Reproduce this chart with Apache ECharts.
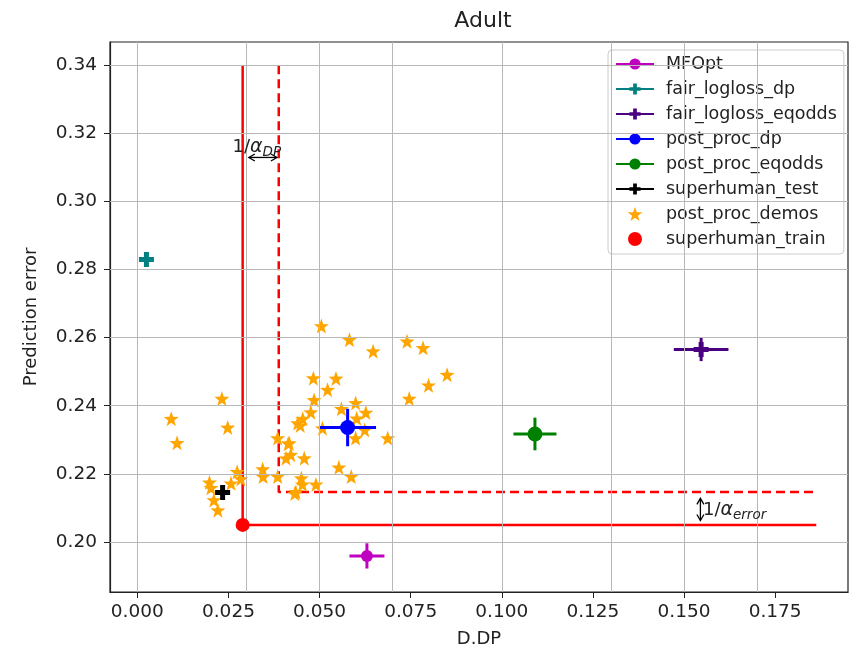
<!DOCTYPE html>
<html>
<head>
<meta charset="utf-8">
<script src="https://cdn.jsdelivr.net/npm/echarts@6/dist/echarts.min.js"></script>
<style>
  html, body { margin: 0; padding: 0; background: #fff; }
  #chart { width: 856px; height: 656px; }
</style>
</head>
<body>
<div id="chart"></div>
<script>
// ticks
const xTicks = [0, 0.025, 0.05, 0.075, 0.1, 0.125, 0.15, 0.175]
const yTicks = [0.2, 0.22, 0.24, 0.26, 0.28, 0.3, 0.32, 0.34]

// methods with error bars
const methodNames = ['MFOpt', 'fair_logloss_dp', 'fair_logloss_eqodds', 'post_proc_dp', 'post_proc_eqodds', 'superhuman_test']
const methodColors = ['#bf00bf', '#008080', '#4b0082', '#0000ff', '#008000', '#000000']
const methodSymbols = ['circle', 'plus', 'plus', 'circle', 'circle', 'plus']
const methodX = [0.0630, 0.0025, 0.1547, 0.0577, 0.1091, 0.0234]
const methodY = [0.1959, 0.2829, 0.2565, 0.2336, 0.2317, 0.2145]
const methodXErr = [0.0048, 0.0008, 0.0075, 0.0078, 0.0059, 0.0010]
const methodYErr = [0.0037, 0.0008, 0.0034, 0.0055, 0.0048, 0.0010]

// post_proc_demos (stars)
const demosX = [0.0232, 0.0093, 0.0248, 0.0109, 0.0385, 0.0414, 0.0408, 0.0421, 0.0344, 0.0345,
  0.0385, 0.0274, 0.0284, 0.0257, 0.0198, 0.0202, 0.0210, 0.0221, 0.0435, 0.0440,
  0.0505, 0.0582, 0.0647, 0.0740, 0.0784, 0.0850, 0.0799, 0.0746, 0.0483, 0.0545,
  0.0522, 0.0485, 0.0599, 0.0560, 0.0627, 0.0476, 0.0454, 0.0447, 0.0602, 0.0624,
  0.0508, 0.0599, 0.0687, 0.0417, 0.0458, 0.0553, 0.0587, 0.0450, 0.0453, 0.0490, 0.0432]
const demosY = [0.2421, 0.2362, 0.2336, 0.2291, 0.2305, 0.2289, 0.2246, 0.2256, 0.2214, 0.2192,
  0.2192, 0.2206, 0.2185, 0.2172, 0.2175, 0.2159, 0.2123, 0.2093, 0.2147, 0.2349,
  0.2634, 0.2594, 0.2560, 0.2589, 0.2570, 0.2491, 0.2460, 0.2421, 0.2481, 0.2480,
  0.2447, 0.2417, 0.2408, 0.2391, 0.2380, 0.2381, 0.2362, 0.2342, 0.2363, 0.2329,
  0.2334, 0.2305, 0.2305, 0.2290, 0.2246, 0.2219, 0.2192, 0.2187, 0.2169, 0.2169, 0.2142]

// superhuman_train
const trainX = [0.0289]
const trainY = [0.2050]

// bound lines
const solidLineX = [0.0289, 0.0289, 0.1863]
const solidLineY = [0.34, 0.2050, 0.2050]
const dashedLineX = [0.0388, 0.0388, 0.1863]
const dashedLineY = [0.34, 0.2147, 0.2147]

// annotation arrows [x1, y1, x2, y2] and labels
const arrows = [[0.0306, 0.3129, 0.0383, 0.3129], [0.1545, 0.2128, 0.1545, 0.2063]]
const annotX = [0.0261, 0.1552]
const annotY = [0.3160, 0.2094]
const annotText = ['1/{a|α}{s|DP}', '1/{a|α}{s|error}']

const font = 'DejaVu Sans'
const zip = (xs, ys) => xs.map((x, i) => [x, ys[i]])
const starPath = 'path://M0,-10 L2.35,-3.24 L9.51,-3.09 L3.8,1.24 L5.88,8.09 L0,4 L-5.88,8.09 L-3.8,1.24 L-9.51,-3.09 L-2.35,-3.24 Z'
const plusPath = 'path://M-1,-3 L1,-3 L1,-1 L3,-1 L3,1 L1,1 L1,3 L-1,3 L-1,1 L-3,1 L-3,-1 L-1,-1 Z'

const chart = echarts.init(document.getElementById('chart'))

const series = []

// grid lines
series.push({
  name: 'grid',
  type: 'line',
  data: [],
  silent: true,
  z: 0,
  markLine: {
    silent: true,
    symbol: 'none',
    label: { show: false },
    lineStyle: { color: '#b8b8b8', width: 1, type: 'solid' },
    data: xTicks.map(v => ({ xAxis: v })).concat(yTicks.map(v => ({ yAxis: v })))
  }
})

series.push({
  name: 'solid',
  type: 'line',
  data: zip(solidLineX, solidLineY),
  showSymbol: false,
  silent: true,
  lineStyle: { color: '#ff0000', width: 2.5 },
  z: 2
})
series.push({
  name: 'dashed',
  type: 'line',
  data: zip(dashedLineX, dashedLineY),
  showSymbol: false,
  silent: true,
  lineStyle: { color: '#ff0000', width: 2.5, type: [9, 5] },
  z: 2
})

// marker series (legend source)
methodNames.forEach((name, i) => {
  series.push({
    name: name,
    type: 'line',
    data: [[methodX[i], methodY[i]]],
    symbol: methodSymbols[i] === 'plus' ? plusPath : 'circle',
    symbolSize: methodSymbols[i] === 'plus' ? 15 : (name === 'MFOpt' ? 12 : 15),
    itemStyle: { color: methodColors[i], opacity: 1 },
    lineStyle: { color: methodColors[i], width: 3 },
    z: 5
  })
})

series.push({
  name: 'post_proc_demos',
  type: 'scatter',
  data: zip(demosX, demosY),
  symbol: starPath,
  symbolSize: 15,
  itemStyle: { color: '#ffa500', opacity: 1 },
  z: 3
})
series.push({
  name: 'superhuman_train',
  type: 'scatter',
  data: zip(trainX, trainY),
  symbol: 'circle',
  symbolSize: 14,
  itemStyle: { color: '#ff0000', opacity: 1 },
  z: 6
})

// error bars
methodNames.forEach((name, i) => {
  series.push({
    name: name,
    type: 'custom',
    data: [[methodX[i], methodY[i], methodXErr[i], methodYErr[i]]],
    encode: { x: 0, y: 1 },
    z: 4,
    renderItem(params, api) {
      const x = api.value(0), y = api.value(1), ex = api.value(2), ey = api.value(3)
      const l = api.coord([x - ex, y]), r = api.coord([x + ex, y])
      const t = api.coord([x, y + ey]), b = api.coord([x, y - ey])
      const style = { stroke: methodColors[i], lineWidth: 3 }
      return {
        type: 'group',
        children: [
          { type: 'line', shape: { x1: l[0], y1: l[1], x2: r[0], y2: r[1] }, style },
          { type: 'line', shape: { x1: t[0], y1: t[1], x2: b[0], y2: b[1] }, style }
        ]
      }
    }
  })
})

// annotation arrows
series.push({
  name: 'arrows',
  type: 'custom',
  data: arrows,
  encode: { x: [0, 2], y: [1, 3] },
  silent: true,
  z: 7,
  renderItem(params, api) {
    const p1 = api.coord([api.value(0), api.value(1)])
    const p2 = api.coord([api.value(2), api.value(3)])
    const dx = p2[0] - p1[0], dy = p2[1] - p1[1]
    const len = Math.sqrt(dx * dx + dy * dy)
    const ux = dx / len, uy = dy / len
    const h = 6, w = 3.5
    const head = (p, sx, sy) => [
      [p[0] + sx * h - sy * w, p[1] + sy * h + sx * w],
      [p[0], p[1]],
      [p[0] + sx * h + sy * w, p[1] + sy * h - sx * w]
    ]
    const style = { stroke: '#000', lineWidth: 1.3, fill: 'none' }
    return {
      type: 'group',
      children: [
        { type: 'line', shape: { x1: p1[0], y1: p1[1], x2: p2[0], y2: p2[1] }, style },
        { type: 'polyline', shape: { points: head(p1, ux, uy) }, style },
        { type: 'polyline', shape: { points: head(p2, -ux, -uy) }, style }
      ]
    }
  }
})

// annotation texts
series.push({
  name: 'annotations',
  type: 'custom',
  data: zip(annotX, annotY),
  encode: { x: 0, y: 1 },
  silent: true,
  z: 8,
  renderItem(params, api) {
    const p = api.coord([api.value(0), api.value(1)])
    return {
      type: 'text',
      x: p[0],
      y: p[1],
      style: {
        text: annotText[params.dataIndex],
        fontFamily: font,
        fontSize: 18,
        fill: '#222',
        verticalAlign: 'middle',
        align: 'left',
        rich: {
          a: { fontFamily: font, fontSize: 19, fontStyle: 'italic', fill: '#222' },
          s: { fontFamily: font, fontSize: 13.5, fontStyle: 'italic', fill: '#222', padding: [11, 0, 0, 0] }
        }
      }
    }
  }
})

chart.setOption({
  animation: false,
  textStyle: { fontFamily: font },
  title: {
    text: 'Adult',
    left: 478,
    textAlign: 'center',
    top: 5,
    textStyle: { fontFamily: font, fontSize: 22, fontWeight: 'normal', color: '#222' }
  },
  legend: {
    data: methodNames.concat(['post_proc_demos', 'superhuman_train']),
    orient: 'vertical',
    left: 608,
    top: 50,
    padding: [5, 7, 6, 7],
    itemWidth: 38,
    itemHeight: 14,
    itemGap: 7,
    backgroundColor: 'rgba(255,255,255,0.85)',
    borderColor: '#cccccc',
    borderWidth: 1,
    borderRadius: 4,
    textStyle: { fontFamily: font, fontSize: 17.5, lineHeight: 18, color: '#222', padding: [0, 0, 0, 7] }
  },
  grid: {
    left: 110,
    right: 8,
    top: 42,
    bottom: 64,
    show: true,
    borderColor: '#222',
    borderWidth: 1.2,
    backgroundColor: '#fff'
  },
  xAxis: {
    type: 'value',
    min: -0.0075,
    max: 0.195,
    name: 'D.DP',
    nameLocation: 'middle',
    nameGap: 38,
    nameTextStyle: { fontFamily: font, fontSize: 18, color: '#222' },
    axisLine: { show: true, onZero: false, lineStyle: { color: '#222', width: 1.2 } },
    axisTick: { show: true, length: 6, customValues: xTicks, lineStyle: { color: '#222' } },
    axisLabel: {
      customValues: xTicks,
      margin: 11,
      fontFamily: font,
      fontSize: 18.5,
      color: '#222',
      formatter: v => v.toFixed(3)
    },
    splitLine: { show: false }
  },
  yAxis: {
    type: 'value',
    min: 0.1853,
    max: 0.3468,
    name: 'Prediction error',
    nameLocation: 'middle',
    nameGap: 70,
    nameTextStyle: { fontFamily: font, fontSize: 18, color: '#222' },
    axisLine: { show: true, onZero: false, lineStyle: { color: '#222', width: 1.2 } },
    axisTick: { show: true, length: 6, customValues: yTicks, lineStyle: { color: '#222' } },
    axisLabel: {
      customValues: yTicks,
      margin: 13,
      fontFamily: font,
      fontSize: 18.5,
      color: '#222',
      formatter: v => v.toFixed(2)
    },
    splitLine: { show: false }
  },
  series: series
})
</script>
</body>
</html>
